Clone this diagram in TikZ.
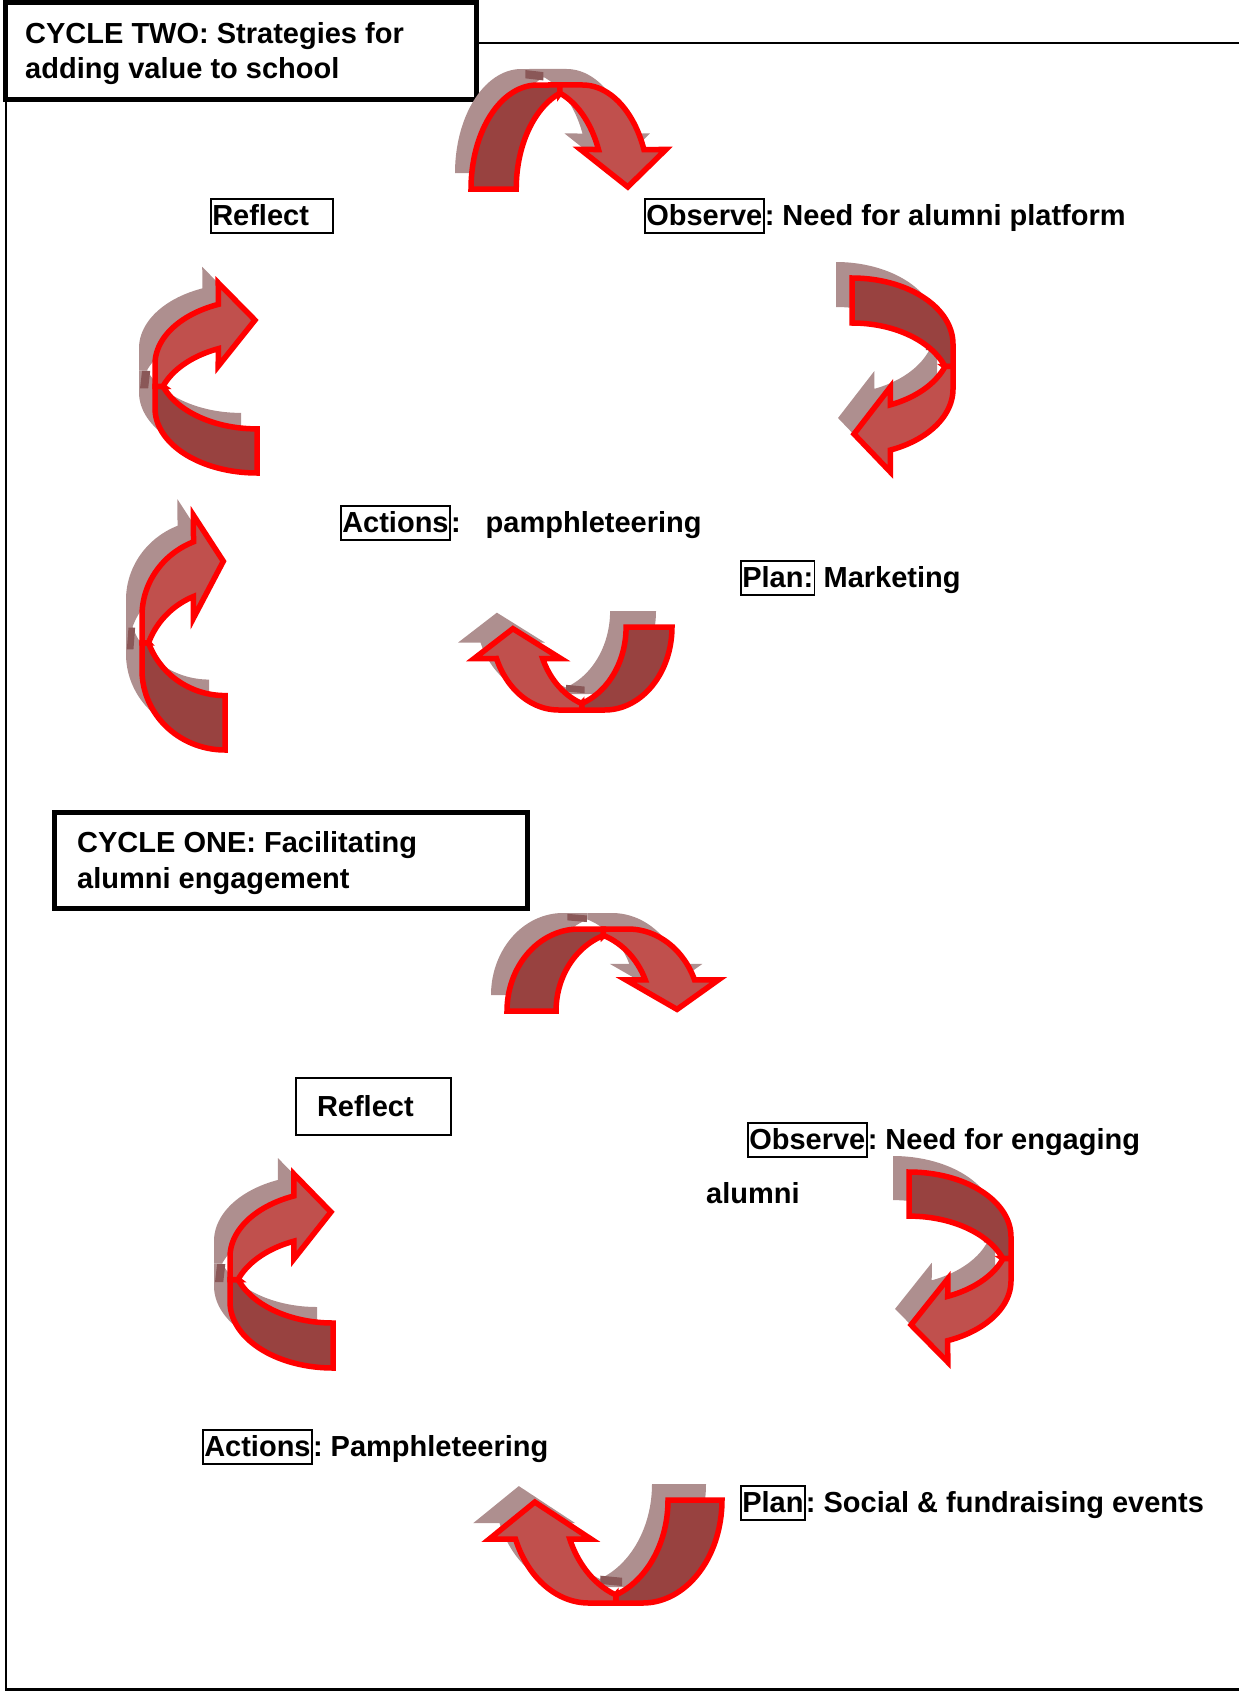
\documentclass[tikz,border=0pt]{standalone}
\usepackage{fontspec}
\setmainfont{Liberation Sans}
\definecolor{arrowshadowc}{HTML}{AE8F8F}
\definecolor{shadowmarkc}{HTML}{8A5858}
\definecolor{banddark}{HTML}{984240}
\definecolor{bandlight}{HTML}{C0504D}

% One curved arrow: a band whose outer edge runs over a flat top and whose two
% inner edges form a pointed arch; the back half darker, the head at the
% right-hand end. #1,#2: origin; #3-#6: the u and v axes of the arrow.
\newcommand{\backband}{(0,0) -- plot[domain=180:90] ({0.33+0.33*cos(\x)},{sin(\x)})
  -- (0.4425,1) -- (0.4425,0.921)
  -- plot[domain=109.9:180] ({0.555+0.33*cos(\x)},{0.98*sin(\x)}) -- cycle}
\newcommand{\frontband}{(0.4425,1) -- plot[domain=90:22.3] ({0.555+0.33*cos(\x)},{sin(\x)})
  -- (0.97,0.38) -- (0.78,0.02) -- (0.545,0.38)
  -- plot[domain=22.8:70.1] ({0.33+0.33*cos(\x)},{0.98*sin(\x)}) -- cycle}
\newcommand{\cyclearrow}[6]{%
\begin{scope}[shift={(#1,#2)}, x={(#3pt,#4pt)}, y={(#5pt,#6pt)}]
  \begin{scope}[shift={(-16pt,16pt)}]
    \fill[arrowshadowc] \backband;
    \fill[arrowshadowc] \frontband;
    \fill[shadowmarkc] (0.35,0.91) -- (0.44,0.89) -- (0.44,0.97) -- (0.35,0.99) -- cycle;
  \end{scope}
  \filldraw[bandback] \backband;
  \filldraw[bandfront] \frontband;
\end{scope}}

\begin{document}
\begin{tikzpicture}[x=1pt, y=-1pt,
  every node/.style={font=\bfseries\frenchspacing\fontsize{29}{33}\selectfont, inner sep=0pt},
  every plot/.style={samples=40},
  bandback/.style={fill=banddark, draw=red, line width=5.5pt},
  bandfront/.style={fill=bandlight, draw=red, line width=5.5pt},
  titlebox/.style={draw, line width=5pt},
  wordbox/.style={draw, line width=1.5pt, anchor=north west, inner xsep=1.5pt,
    inner ysep=0.5pt, text height=26pt, text depth=7pt},
  after/.style={anchor=base west},
  frameline/.style={line width=2.3pt}]

\useasboundingbox (0,0) rectangle (1239,1691);

% page frame
\coordinate (ftl) at (476,43);
\coordinate (ftr) at (1239,43);
\coordinate (flt) at (6,99);
\coordinate (flb) at (6,1689.5);
\coordinate (fbr) at (1239,1689.5);
\draw[frameline] (ftl) -- (ftr);
\draw[frameline] (flt) -- (flb) -- (fbr);

% ---------- cycle two ----------
\node[titlebox, minimum width=470.5pt, minimum height=97pt] (twotitle) at (240.75,51) {};
\node[after] (twoa) at (25,43.3) {CYCLE TWO: Strategies for};
\node[after] (twob) at (25,78.3) {adding value to school};

\node[wordbox, text width=119pt, align=left] (reflecttwo) at (210,198) {Reflect};
\node[wordbox] (observetwo) at (644,198) {Observe};
\node[after] (observetwotxt) at (observetwo.base east) {: Need for alumni platform};
\node[wordbox] (actionstwo) at (340,505) {Actions};
\node[after] (actionstwotxt) at (actionstwo.base east) {:\hspace{25pt}pamphleteering};
\node[wordbox] (plantwo) at (740,560) {Plan:};
\node[after] (plantwotxt) at (plantwo.base east) {\ Marketing};

\cyclearrow{471}{189}{201}{0}{0}{104}
\cyclearrow{852}{278}{0}{-200}{101}{0}
\cyclearrow{672}{627}{-204}{0}{0}{-83}
\cyclearrow{257}{473}{0}{196}{-102}{0}
\cyclearrow{225}{750}{0}{242}{-83}{0}

% ---------- cycle one ----------
\node[titlebox, minimum width=472.5pt, minimum height=96pt] (onetitle) at (290.75,860) {};
\node[after] (onea) at (77,852) {CYCLE ONE: Facilitating};
\node[after] (oneb) at (77,888) {alumni engagement};

\node[draw, line width=2pt, anchor=north west, text width=113pt, align=left,
  inner xsep=21pt, minimum height=57pt] (reflectone) at (295,1077) {Reflect};
\node[wordbox] (observeone) at (747,1122) {Observe};
\node[after] (observeonetxt) at (observeone.base east) {: Need for engaging};
\node[after] (alumnione) at (706,1203) {alumni};
\node[wordbox] (actionsone) at (202,1429) {Actions};
\node[after] (actionsonetxt) at (actionsone.base east) {: Pamphleteering};
\node[wordbox] (planone) at (740,1485) {Plan};
\node[after] (planonetxt) at (planone.base east) {: Social \& fundraising events};

\cyclearrow{507}{1011}{218}{0}{0}{82}
\cyclearrow{909}{1172}{0}{-196}{102}{0}
\cyclearrow{722}{1500}{-240}{0}{0}{-103}
\cyclearrow{333}{1368}{0}{200}{-103}{0}

\end{tikzpicture}
\end{document}
